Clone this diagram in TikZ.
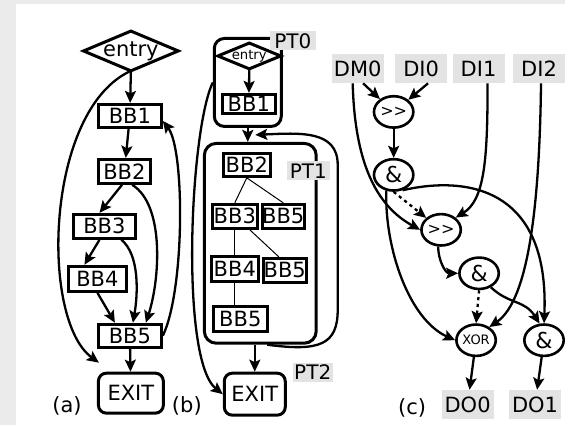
\documentclass[tikz,border=0pt]{standalone}
\usepackage{fontspec}
\setmainfont{DejaVu Sans}
\usetikzlibrary{shapes.geometric, arrows.meta, positioning, calc}
\definecolor{pagegray}{HTML}{EBEBEB}
\definecolor{taggray}{HTML}{E3E3E3}

\begin{document}
\begin{tikzpicture}[x=0.5pt, y=-0.5pt,
    font=\fontsize{10.5}{12}\selectfont,
    blk/.style={draw, line width=1.5pt, inner sep=0pt, minimum height=12pt},
    exitbox/.style={draw, line width=1.5pt, rounded corners=4pt, minimum width=32.5pt, minimum height=20pt, inner sep=0pt},
    part/.style={draw, line width=1.5pt, rounded corners=6pt, inner sep=0pt},
    tag/.style={fill=taggray, inner sep=0pt, minimum width=26pt, minimum height=14.5pt},
    ptag/.style={fill=taggray, inner sep=0pt, minimum width=21.5pt, minimum height=9.5pt, font=\fontsize{10}{11}\selectfont},
    op/.style={draw, ellipse, line width=1.3pt, inner sep=0pt, minimum width=19.7pt, minimum height=15.7pt},
    arr/.style={-{Stealth[length=6pt, width=5.5pt, inset=1.2pt]}, line width=1.15pt},
    dotarr/.style={arr, dash pattern=on 1.6pt off 1.8pt},
    tree/.style={line width=0.5pt}]

% page
\fill[pagegray] (0,0) rectangle (565,425);
\fill[white] (16,4) rectangle (565,425);

% (a) control flow graph
\node[minimum width=47pt, minimum height=19.5pt, inner sep=0pt] (entA) at (131,51) {entry};
\draw[line width=1.5pt] (entA.west) -- (entA.north) -- (entA.east) -- (entA.south) -- cycle;
\node[blk, minimum width=31.5pt, minimum height=11.5pt] (bb1a) at (130,116) {BB1};
\node[blk, minimum width=26pt] (bb2a) at (124.5,171.5) {BB2};
\node[blk, minimum width=31pt] (bb3a) at (104.5,226.5) {BB3};
\node[blk, minimum width=29pt, minimum height=12.5pt] (bb4a) at (97.5,279) {BB4};
\node[blk, minimum width=31.5pt, minimum height=11.5pt] (bb5a) at (130,336) {BB5};
\node[exitbox] (exitA) at (131,393.5) {EXIT};
\node (labA) at (67,406) {(a)};

\draw[arr] (entA.south) -- (bb1a);
\draw[arr] (entA.south) .. controls (45,110) and (40,320) .. ($(exitA.north west)+(2,-9)$);
\draw[arr] (bb1a) -- (bb2a);
\draw[arr] (bb2a.-100) -- (bb3a.110);
\draw[arr] (bb2a.-60) .. controls (165,205) and (160,280) .. ($(bb5a.north)+(16,0)$);
\draw[arr] ($(bb3a.south)+(17,0)$) .. controls (140,255) and (138,295) .. ($(bb5a.north)+(3,0)$);
\draw[arr] (bb3a.-110) -- ($(bb4a.north)+(-13,0)$);
\draw[arr] (bb4a.south) -- ($(bb5a.north)+(-15,0)$);
\draw[arr] (bb5a) -- (exitA);
\draw[arr] (bb5a.east) .. controls (185,290) and (185,150) .. ($(bb1a.east)+(0,5)$);

% (b) partitions
\node[part, rounded corners=5pt, minimum width=33.5pt, minimum height=44pt] (pt0) at (248,82.5) {};
\node[part, minimum width=56pt, minimum height=100pt] (pt1) at (260.5,243.5) {};
\node[minimum width=31pt, minimum height=12.5pt, inner sep=0pt, font=\fontsize{6.6}{7}\selectfont] (entB) at (249.5,56) {entry};
\draw[line width=1.5pt] (entB.west) -- (entB.north) -- (entB.east) -- (entB.south) -- cycle;
\node[blk, minimum width=26.5pt, minimum height=9.5pt] (bb1b) at (249,104) {BB1};
\node[blk, minimum width=23.5pt, minimum height=11.5pt] (bb2b) at (247,165) {BB2};
\node[blk, minimum width=22.5pt] (bb3b) at (235,216.5) {BB3};
\node[blk, minimum width=20pt] (bb5bA) at (283.5,216.5) {BB5};
\node[blk, minimum width=23.5pt, minimum height=12.5pt] (bb4b) at (235,269) {BB4};
\node[blk, minimum width=21.5pt, minimum height=12pt] (bb5bB) at (285,270.5) {BB5};
\node[blk, minimum width=27pt, minimum height=12.5pt] (bb5bC) at (240.5,319) {BB5};
\node[exitbox, minimum width=30.5pt, minimum height=21pt] (exitB) at (255,394.5) {EXIT};
\node[ptag, minimum width=23pt] (tag0) at (293,41) {PT0};
\node[ptag] (tag1) at (308.5,171) {PT1};
\node[ptag, minimum width=20pt] (tag2) at (313,372.5) {PT2};
\node (labB) at (187,406) {(b)};

\draw[arr] (entB.south) -- (bb1b);
\draw[tree] (bb2b.south) -- (bb3b.north);
\draw[tree] (bb2b.south) -- (bb5bA.north);
\draw[tree] (bb3b.south) -- (bb4b.north);
\draw[tree] ($(bb3b.south)+(15,0)$) -- ($(bb5bB.north)+(-6,0)$);
\draw[tree] (bb4b.south) -- (bb4b.south |- bb5bC.north);
\draw[arr] (pt0.south) -- (pt0.south |- pt1.north);
\draw[arr] ($(pt1.south)+(7,0)$) .. controls (320,352) and (338,345) .. (338,310) -- (338,165)
    .. controls (338,130) and (300,133) .. ($(pt1.north)+(-5,-7)$);
\draw[arr] (pt0.west) .. controls (190,130) and (180,360) .. (exitB.west);
\draw[arr] (exitB.north |- pt1.south) -- (exitB.north);

% (c) data flow
\foreach \n/\t/\x in {dm0/DM0/358, di0/DI0/421.5, di1/DI1/479, di2/DI2/539.5}
    \node[tag] (\n) at (\x,68.5) {\t};
\node[tag] (do0) at (468,405) {DO0};
\node[tag] (do1) at (535.5,405) {DO1};
\node[op, font=\fontsize{8}{9}\selectfont] (sh1) at (394,112) {>{}>};
\node[op, font=\fontsize{11}{12}\selectfont] (and1) at (394,175) {\&};
\node[op, font=\fontsize{8}{9}\selectfont] (sh2) at (441.5,230) {>{}>};
\node[op, font=\fontsize{11}{12}\selectfont] (and2) at (479.5,273.5) {\&};
\node[op, font=\fontsize{6.5}{7}\selectfont] (xor) at (476.5,340.5) {XOR};
\node[op, font=\fontsize{11}{12}\selectfont] (and3) at (544.5,340.5) {\&};
\node (labC) at (412.5,408) {(c)};

\draw[arr] (dm0.-70) -- (sh1);
\draw[arr] (di0.-65) -- (sh1);
\draw[arr] (sh1) -- (and1);
\draw[dotarr] (and1.south) -- (sh2);
\draw[arr] ($(dm0.south)+(-5,0)$) .. controls (355,160) and (375,205) .. (sh2.west);
\draw[arr] ($(di1.south)+(9,0)$) .. controls (488,160) and (485,200) .. (sh2.40);
\draw[arr] (and1.-60) .. controls (470,175) and (550,190) .. (and3.north);
\draw[arr] (and1.-115) .. controls (385,250) and (410,320) .. (xor.west);
\draw[arr] (sh2.-100) to[out=-90, in=180] (and2.west);
\draw[dotarr] (and2.south) -- (xor.north);
\draw[arr] (and2.-50) .. controls (510,305) and (525,300) .. (and3.105);
\draw[arr] ($(di2.south)+(2,0)$) .. controls (540,200) and (530,300) .. (xor.45);
\draw[arr] (xor) -- (do0);
\draw[arr] (and3) -- (do1);
\end{tikzpicture}
\end{document}
